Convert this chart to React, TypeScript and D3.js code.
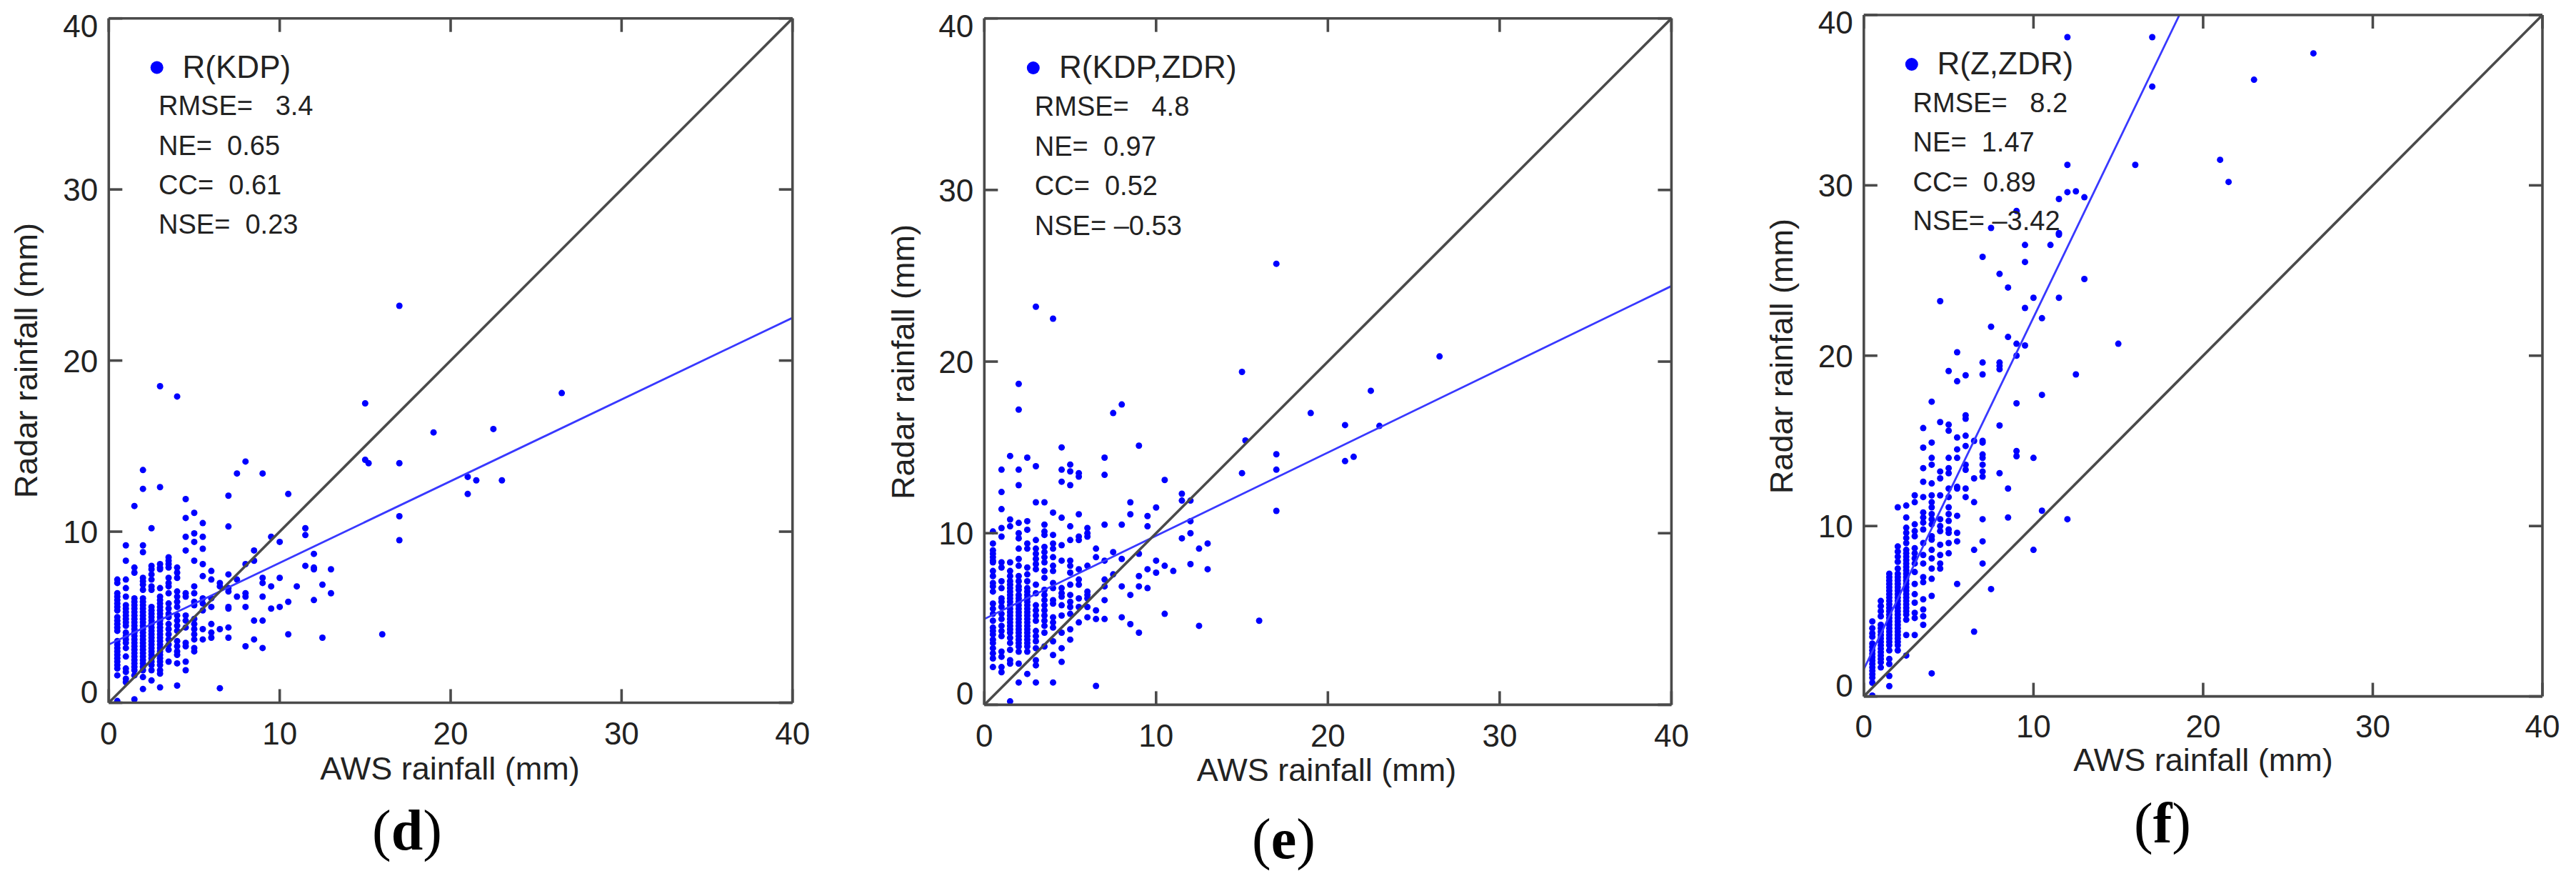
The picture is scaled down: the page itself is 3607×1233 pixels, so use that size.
import React, { useRef, useEffect } from "react";
import * as d3 from "d3";

type Column = [number, number[]];

// points, grouped by AWS rainfall (half mm columns): [x, [radar values]]
const kdpColumns: Column[] = [
  [0.5, [7.2, 7.0, 6.4, 6.2, 6.0, 5.8, 5.6, 5.4, 5.0, 4.8, 4.6, 4.4, 4.2, 3.6, 3.4, 3.2, 3.0, 2.8, 2.6, 2.4, 2.2, 2.0, 1.6, 0.1]],
  [1, [9.2, 8.3, 7.2, 6.7, 6.2, 5.7, 5.5, 5.3, 5.1, 4.9, 4.7, 4.5, 4.1, 3.9, 3.7, 3.5, 3.2, 2.7, 2.0, 1.8, 1.4, 1.2]],
  [1.5, [11.5, 7.9, 7.6, 6.1, 5.9, 5.7, 5.5, 5.3, 5.1, 4.9, 4.7, 4.5, 4.3, 4.1, 3.9, 3.7, 3.5, 3.3, 3.1, 2.9, 2.7, 2.5, 2.3, 2.1, 1.9, 1.6, 0.2]],
  [2, [13.6, 12.5, 9.2, 8.8, 7.3, 7.1, 6.9, 6.6, 6.1, 5.9, 5.7, 5.5, 5.3, 5.1, 4.9, 4.7, 4.5, 4.3, 4.1, 3.9, 3.7, 3.5, 3.3, 3.1, 2.9, 2.7, 2.5, 2.3, 2.1, 1.9, 1.5, 0.8]],
  [2.5, [10.2, 8.0, 7.8, 7.5, 7.2, 6.8, 6.6, 5.6, 5.4, 5.2, 5.0, 4.8, 4.6, 4.4, 4.2, 4.0, 3.8, 3.6, 3.4, 3.2, 3.0, 2.8, 2.6, 2.4, 2.2, 1.9, 1.3]],
  [3, [12.6, 8.1, 7.9, 7.8, 6.7, 6.2, 6.0, 5.8, 5.6, 5.4, 5.2, 5.0, 4.8, 4.6, 4.4, 4.2, 4.0, 3.8, 3.6, 3.4, 3.2, 3.0, 2.8, 2.6, 2.4, 2.2, 1.9, 1.7, 0.9]],
  [3.5, [8.5, 8.3, 8.1, 7.9, 7.3, 7.0, 6.8, 6.4, 5.8, 5.5, 5.2, 5.0, 4.6, 4.3, 4.0, 3.7, 3.4, 3.1, 2.4]],
  [4, [7.9, 7.6, 7.3, 6.5, 6.2, 5.9, 5.6, 5.1, 4.8, 4.5, 4.2, 3.6, 3.3, 3.0, 2.8, 2.3, 1.0]],
  [4.5, [11.9, 10.8, 9.7, 8.9, 6.4, 6.2, 5.1, 4.8, 4.4, 3.5, 3.3, 2.4, 1.9]],
  [5, [11.1, 9.9, 9.4, 8.3, 6.8, 6.4, 5.9, 5.7, 4.9, 4.6, 4.3, 4.0, 3.7, 3.2, 3.0]],
  [5.5, [10.5, 9.7, 9.0, 8.1, 7.4, 6.1, 5.8, 5.4, 4.3, 3.7]],
  [6, [7.7, 7.2, 6.1, 5.6, 4.6, 4.1, 3.8]],
  [6.5, [7.0, 6.8, 4.3, 0.85]],
  [7, [12.1, 10.3, 7.5, 6.7, 6.5, 5.6, 5.5, 4.4, 3.8]],
  [7.5, [13.4, 7.2, 6.2]],
  [8, [14.1, 8.1, 6.4, 6.2, 5.6, 3.3]],
  [8.5, [8.9, 8.3, 4.8, 3.7]],
  [9, [13.4, 7.3, 7.0, 6.2, 4.8, 3.2]],
  [9.5, [9.7, 6.8, 5.5]],
  [10, [9.4, 7.3, 5.6]],
  [10.5, [12.2, 5.9, 4.0]],
  [11, [6.8]],
  [11.5, [10.2, 9.8, 8.0]],
  [12, [8.7, 7.9, 7.8, 6.0]],
  [12.5, [6.9, 3.8]],
  [13, [7.8, 6.4]],
  [15, [17.5, 14.2]],
  [15.2, [14.0]],
  [16, [4.0]],
  [17, [23.2, 14.0, 10.9, 9.5]],
  [19, [15.8]],
  [21, [13.2, 12.2]],
  [21.5, [13.0]],
  [22.5, [16.0]],
  [23, [13.0]],
  [26.5, [18.1]],
];
const kdpExtra: Column[] = [
  [3, [18.5]],
  [4, [17.9]],
];

const kdpZdrColumns: Column[] = [
  [0.5, [10.1, 9.4, 9.0, 8.8, 8.6, 8.4, 8.3, 7.8, 7.5, 7.1, 6.9, 6.6, 5.9, 5.6, 5.3, 4.9, 4.5, 4.3, 4.1, 3.8, 3.6, 3.3, 3.0, 2.7, 2.2]],
  [1, [13.7, 12.4, 11.4, 10.3, 9.8, 8.3, 8.0, 7.2, 6.8, 6.2, 6.0, 5.7, 5.3, 5.0, 4.6, 4.3, 4.0, 3.1, 2.8, 2.2, 1.9]],
  [1.5, [14.5, 10.8, 10.4, 8.3, 7.8, 7.5, 7.2, 7.0, 6.8, 6.6, 6.4, 6.2, 6.0, 5.8, 5.6, 5.4, 5.2, 5.0, 4.8, 4.6, 4.4, 4.2, 3.9, 3.6, 3.2, 2.6, 2.4, 0.2]],
  [2, [13.7, 12.8, 10.6, 10.0, 9.7, 9.1, 8.5, 8.1, 7.5, 7.2, 6.9, 6.7, 6.4, 6.2, 6.0, 5.8, 5.6, 5.4, 5.2, 5.0, 4.8, 4.6, 4.4, 4.2, 4.0, 3.8, 3.6, 3.4, 3.1, 2.4, 1.3]],
  [2.5, [14.4, 10.7, 10.2, 9.4, 9.1, 8.0, 7.6, 7.2, 6.8, 6.6, 6.4, 6.2, 6.0, 5.8, 5.6, 5.4, 5.2, 5.0, 4.8, 4.6, 4.4, 4.2, 4.0, 3.8, 3.6, 3.4, 3.1, 1.8]],
  [3, [13.9, 11.8, 9.6, 9.1, 8.8, 8.5, 8.2, 7.9, 7.0, 6.5, 5.8, 5.5, 5.2, 4.9, 4.3, 4.0, 3.7, 3.3, 2.6, 2.3, 1.3]],
  [3.5, [11.8, 10.5, 10.1, 9.9, 9.2, 8.9, 8.6, 8.3, 7.8, 7.4, 6.7, 6.4, 6.1, 5.8, 5.5, 5.2, 4.9, 4.6, 4.2, 3.4]],
  [4, [11.2, 9.9, 9.4, 9.1, 8.6, 8.1, 7.8, 7.1, 6.8, 6.1, 5.9, 5.1, 4.8, 4.5, 3.7, 2.9, 1.3]],
  [4.5, [15.0, 13.7, 13.0, 10.9, 9.3, 8.4, 6.8, 6.5, 6.3, 5.8, 5.2, 4.2, 3.3, 2.5]],
  [5, [14.0, 13.6, 12.8, 10.4, 9.6, 8.4, 8.1, 7.7, 7.0, 6.4, 6.0, 5.7, 5.3, 4.4, 3.8]],
  [5.5, [13.5, 13.3, 11.1, 9.8, 9.6, 7.9, 7.3, 7.0, 6.2, 5.7, 4.8]],
  [6, [10.3, 10.0, 9.8, 8.1, 6.6, 6.4, 6.2, 5.7, 5.1]],
  [6.5, [9.1, 8.6, 5.5, 5.0, 1.1]],
  [7, [14.4, 13.4, 10.5, 8.4, 7.3, 6.9, 6.1, 5.0]],
  [7.5, [17.0, 8.9, 7.6]],
  [8, [17.5, 10.5, 8.5, 6.9, 5.1]],
  [8.5, [11.8, 11.1, 6.4, 4.7]],
  [9, [15.1, 8.8, 7.5, 6.9, 4.2]],
  [9.5, [11.0, 10.4, 7.9, 6.8]],
  [10, [11.5, 8.4, 7.7]],
  [10.5, [13.1, 8.1, 5.3]],
  [11, [7.8]],
  [11.5, [12.3, 11.9, 9.7]],
  [12, [11.9, 10.7, 10.0, 8.2]],
  [12.5, [9.1, 4.6]],
  [13, [9.4, 7.9]],
  [15, [19.4, 13.5]],
  [15.2, [15.4]],
  [16, [4.9]],
  [17, [25.7, 14.6, 13.7, 11.3]],
  [19, [17.0]],
  [21, [16.3, 14.2]],
  [21.5, [14.45]],
  [22.5, [18.3]],
  [23, [16.25]],
  [26.5, [20.3]],
];
const kdpZdrExtra: Column[] = [
  [2, [18.7, 17.2]],
  [3, [23.2]],
  [4, [22.5]],
];

const zZdrColumns: Column[] = [
  [0.5, [4.4, 4.0, 3.7, 3.5, 3.1, 2.9, 2.7, 2.5, 2.3, 2.1, 1.9, 1.7, 1.5, 1.3, 1.1, 0.8, 0.05]],
  [1, [5.6, 5.3, 5.0, 4.7, 4.2, 4.0, 3.8, 3.6, 3.4, 3.2, 3.0, 2.8, 2.6, 2.4, 2.2, 2.0, 1.7]],
  [1.5, [7.2, 7.0, 6.8, 6.6, 6.4, 6.2, 6.0, 5.8, 5.6, 5.4, 5.2, 5.0, 4.8, 4.6, 4.4, 4.2, 4.0, 3.8, 3.6, 3.4, 3.2, 3.0, 2.7, 2.2, 1.9, 1.2, 0.6]],
  [2, [11.1, 8.8, 8.5, 8.2, 7.9, 7.5, 7.2, 7.0, 6.8, 6.6, 6.4, 6.2, 6.0, 5.8, 5.6, 5.4, 5.2, 5.0, 4.8, 4.6, 4.4, 4.2, 4.0, 3.8, 3.6, 3.4, 3.2, 3.0, 2.7]],
  [2.5, [11.2, 10.5, 9.9, 9.6, 9.3, 9.0, 8.6, 8.4, 8.2, 8.0, 7.8, 7.6, 7.4, 7.2, 7.0, 6.8, 6.6, 6.4, 6.2, 6.0, 5.8, 5.6, 5.4, 5.2, 5.0, 4.8, 4.5, 3.6, 2.4]],
  [3, [11.8, 11.4, 10.1, 9.7, 9.4, 8.7, 8.4, 8.1, 7.8, 7.3, 6.6, 6.0, 5.5, 4.9, 4.6, 3.6]],
  [3.5, [15.75, 14.6, 13.4, 12.6, 11.7, 10.8, 10.5, 10.2, 9.8, 9.0, 8.3, 7.8, 7.0, 6.7, 5.7, 5.1, 4.7, 4.2]],
  [4, [17.3, 14.9, 14.0, 13.6, 12.5, 11.8, 11.4, 11.1, 10.7, 10.4, 10.1, 9.4, 9.2, 8.6, 8.1, 7.5, 6.9, 5.9, 1.35]],
  [4.5, [23.2, 16.1, 13.2, 12.8, 11.8, 10.4, 10.0, 9.7, 8.9, 8.3, 7.8, 7.5]],
  [5, [19.1, 15.95, 15.6, 14.0, 13.4, 13.1, 12.2, 11.7, 11.1, 10.7, 10.3, 9.8, 9.6, 9.0, 8.4]],
  [5.5, [20.2, 18.5, 15.2, 14.5, 14.0, 12.3, 12.2, 10.6, 9.6, 9.1, 6.6]],
  [6, [18.85, 16.5, 16.3, 15.3, 14.7, 13.6, 13.3, 12.2, 11.7]],
  [6.5, [15.0, 12.8, 11.4, 8.6, 3.8]],
  [7, [25.8, 19.6, 18.9, 15.0, 14.9, 14.2, 14.0, 13.6, 13.2, 12.9, 10.4, 9.1, 7.8]],
  [7.5, [27.5, 21.7, 6.3]],
  [8, [24.8, 19.6, 19.4, 19.2, 15.9, 13.1]],
  [8.5, [24.0, 21.1, 12.2, 10.5]],
  [9, [28.5, 20.7, 20.0, 17.2, 14.4, 14.1]],
  [9.5, [26.5, 25.5, 22.8, 20.6]],
  [10, [23.4, 14.0, 8.6]],
  [10.5, [22.2, 17.7, 10.9]],
  [11, [26.5]],
  [11.5, [29.2, 27.2, 27.1, 23.4]],
  [12, [38.7, 31.2, 29.6, 10.4]],
  [12.5, [29.65, 18.9]],
  [13, [29.3, 24.5]],
  [15, [20.7]],
  [16, [31.2]],
  [17, [38.7, 35.8]],
  [21, [31.5]],
  [21.5, [30.2]],
  [23, [36.2]],
  [26.5, [37.75]],
];

const kdpStats = ["RMSE=   3.4", "NE=  0.65", "CC=  0.61", "NSE=  0.23"];
const kdpZdrStats = ["RMSE=   4.8", "NE=  0.97", "CC=  0.52", "NSE= –0.53"];
const zZdrStats = ["RMSE=   8.2", "NE=  1.47", "CC=  0.89", "NSE= –3.42"];

// fit line end points, [[x0, y0], [x1, y1]]
const kdpFit: [number, number][] = [[0, 3.4], [40, 22.5]];
const kdpZdrFit: [number, number][] = [[0, 5.0], [40, 24.4]];
const zZdrFit: [number, number][] = [[0, 1.6], [18.6, 40]];
const oneToOne: [number, number][] = [[0, 0], [40, 40]];

const tickValues = [0, 10, 20, 30, 40];
// matlab pushes the end labels into the axis range
const yLabelShift: Record<number, number> = { 0: 0, 10: 15.5, 20: 16, 30: 16, 40: 26 };

const panels = [
  {
    name: "R(KDP)", letter: "d", columns: [...kdpColumns, ...kdpExtra], stats: kdpStats, fit: kdpFit,
    left: 152.3, right: 1109.7, top: 25.7, bottom: 983.5,
    dot: [219.7, 94.5], nameX: 255.6, nameY: 108.7, statX: 222, statY: [161, 216.7, 272, 327.4],
    xTitle: [630, 1090.5], yTitle: [52, 504.6], xLabelY: 58.5, letterPos: [570, 1189],
  },
  {
    name: "R(KDP,ZDR)", letter: "e", columns: [...kdpZdrColumns, ...kdpZdrExtra], stats: kdpZdrStats, fit: kdpZdrFit,
    left: 1378.3, right: 2340.4, top: 25.7, bottom: 986.4,
    dot: [1446.8, 95], nameX: 1483, nameY: 109, statX: 1448.8, statY: [162, 217.5, 273, 328.5],
    xTitle: [1857.5, 1092.5], yTitle: [1280, 506.5], xLabelY: 58.5, letterPos: [1797.5, 1201],
  },
  {
    name: "R(Z,ZDR)", letter: "f", columns: zZdrColumns, stats: zZdrStats, fit: zZdrFit,
    left: 2609.8, right: 3560, top: 21, bottom: 974.6,
    dot: [2676.8, 90], nameX: 2712.5, nameY: 103.6, statX: 2678.6, statY: [157.4, 212.3, 267.7, 322.3],
    xTitle: [3085, 1079], yTitle: [2510, 498.6], xLabelY: 57.6, letterPos: [3028, 1179],
  },
];

const textColor = "#222";
const axisColor = "#4a4a4a";
const dotColor = "#0000ff";
const sansFont = "'Liberation Sans', Arial, sans-serif";

export default function App() {
  const svgRef = useRef<SVGSVGElement>(null);

  useEffect(() => {
    if (!svgRef.current) return;
    const svg = d3.select(svgRef.current);
    svg.selectAll("*").remove();

    panels.forEach((p, idx) => {
      const x = d3.scaleLinear().domain([0, 40]).range([p.left, p.right]);
      const y = d3.scaleLinear().domain([0, 40]).range([p.bottom, p.top]);
      const g = svg.append("g").attr("font-family", sansFont);

      const clipId = `plot-clip-${idx}`;
      g.append("clipPath").attr("id", clipId).append("rect")
        .attr("x", p.left).attr("y", p.top)
        .attr("width", p.right - p.left).attr("height", p.bottom - p.top);

      const points = p.columns.flatMap(([cx, ys]) => ys.map((v) => [cx, v] as [number, number]));
      g.append("g").attr("clip-path", `url(#${clipId})`)
        .selectAll("circle").data(points).enter().append("circle")
        .attr("cx", (d) => x(d[0])).attr("cy", (d) => y(d[1]))
        .attr("r", 4.5).attr("fill", dotColor);

      const line = d3.line<[number, number]>().x((d) => x(d[0])).y((d) => y(d[1]));
      g.append("path").attr("clip-path", `url(#${clipId})`).attr("d", line(p.fit))
        .attr("fill", "none").attr("stroke", "#3838ff").attr("stroke-width", 2.8);
      g.append("path").attr("clip-path", `url(#${clipId})`).attr("d", line(oneToOne))
        .attr("fill", "none").attr("stroke", "#4a4a4a").attr("stroke-width", 3.6);

      // axes: ticks point inward on all four sides, labels only bottom and left
      const tickLen = -19;
      const bottomAxis = d3.axisBottom(x).tickValues(tickValues).tickSizeInner(tickLen).tickSizeOuter(0).offset(0);
      const topAxis = d3.axisTop(x).tickValues(tickValues).tickSizeInner(tickLen).tickSizeOuter(0).tickFormat(() => "").offset(0);
      const leftAxis = d3.axisLeft(y).tickValues(tickValues).tickSizeInner(tickLen).tickSizeOuter(0).offset(0);
      const rightAxis = d3.axisRight(y).tickValues(tickValues).tickSizeInner(tickLen).tickSizeOuter(0).tickFormat(() => "").offset(0);

      const gBottom = g.append("g").attr("transform", `translate(0,${p.bottom})`).call(bottomAxis);
      const gTop = g.append("g").attr("transform", `translate(0,${p.top})`).call(topAxis);
      const gLeft = g.append("g").attr("transform", `translate(${p.left},0)`).call(leftAxis);
      const gRight = g.append("g").attr("transform", `translate(${p.right},0)`).call(rightAxis);

      [gBottom, gTop, gLeft, gRight].forEach((a) => {
        a.attr("font-family", sansFont).attr("font-size", 44);
        a.select(".domain").attr("stroke", axisColor).attr("stroke-width", 3.6);
        a.selectAll(".tick line").attr("stroke", axisColor).attr("stroke-width", 3.6);
      });
      gBottom.selectAll<SVGTextElement, number>(".tick text")
        .attr("y", p.xLabelY).attr("dy", 0).attr("fill", textColor);
      gLeft.selectAll<SVGTextElement, number>(".tick text")
        .attr("x", -15).attr("dy", (d) => yLabelShift[d]).attr("fill", textColor);

      g.append("text").attr("x", p.xTitle[0]).attr("y", p.xTitle[1])
        .attr("text-anchor", "middle").attr("font-size", 45).attr("fill", textColor)
        .text("AWS rainfall (mm)");
      g.append("text")
        .attr("transform", `translate(${p.yTitle[0]},${p.yTitle[1]}) rotate(-90)`)
        .attr("text-anchor", "middle").attr("font-size", 45).attr("fill", textColor)
        .text("Radar rainfall (mm)");

      // legend and scores
      g.append("circle").attr("cx", p.dot[0]).attr("cy", p.dot[1]).attr("r", 9).attr("fill", dotColor);
      g.append("text").attr("x", p.nameX).attr("y", p.nameY)
        .attr("font-size", 44).attr("fill", textColor).text(p.name);
      g.selectAll(".stat").data(p.stats).enter().append("text").attr("class", "stat")
        .attr("x", p.statX).attr("y", (_, i) => p.statY[i])
        .attr("font-size", 38).attr("fill", textColor)
        .style("white-space", "pre")
        .text((d) => d);

      const letter = g.append("text").attr("x", p.letterPos[0]).attr("y", p.letterPos[1])
        .attr("text-anchor", "middle").attr("font-size", 80).attr("fill", "#000")
        .attr("font-family", "'Liberation Serif', 'Times New Roman', serif");
      letter.append("tspan").text("(");
      letter.append("tspan").attr("font-weight", "bold").text(p.letter);
      letter.append("tspan").text(")");
    });
  }, []);

  return (
    <svg
      ref={svgRef}
      width={3607}
      height={1233}
      style={{ position: "absolute", left: 0, top: 0, display: "block", background: "#fff" }}
    />
  );
}
